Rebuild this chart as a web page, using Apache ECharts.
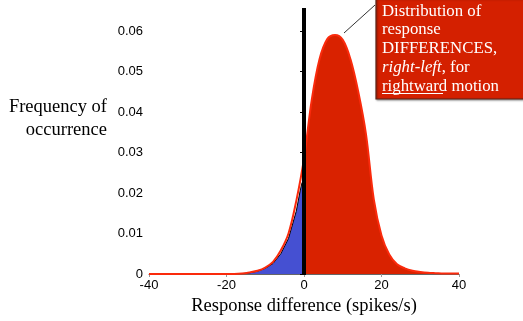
<!DOCTYPE html>
<html>
<head>
<meta charset="utf-8">
<script src="https://cdn.jsdelivr.net/npm/echarts@6/dist/echarts.min.js"></script>
<style>html,body{margin:0;padding:0;background:#fff}#c{width:523px;height:321px}</style>
</head>
<body>
<div id="c"></div>
<script>
// Red distribution (all responses), x in spikes/s
const redX = [-40,-38,-36,-34,-32,-30,-28,-26,-24,-22,-20,-18,-16,-14,-12,-10,-8,-6,-4,-2,0,2,4,6,8,10,12,14,16,18,20,22,24,26,28,30,32,34,36,38,40];
const redY = [0,0,0,0,0,0,0,0,0,0,0,0,0.0001,0.0004,0.0008,0.0016,0.0030,0.0058,0.0100,0.0180,0.0285,0.0430,0.0530,0.0580,0.0590,0.0578,0.0530,0.0450,0.0345,0.0185,0.0095,0.0048,0.0024,0.0014,0.0008,0.0005,0.0003,0.0002,0.0001,0.0001,0.0001];
// Blue portion (negative differences)
const blueX = [-16,-14,-12,-10,-8,-6,-4,-2,-1,-0.5,0];
const blueY = [0.0001,0.0003,0.0007,0.0014,0.0026,0.0050,0.0088,0.0155,0.0205,0.0226,0.0226];
// Criterion line at zero
const critX = [0,0];
const critY = [0,1];
const xTicks = [-40,-20,0,20,40];
const yTicks = [0,0.01,0.02,0.03,0.04,0.05,0.06];

const redLine = redX.map((x,i)=>[x,redY[i]]);
const redArea = redX.map((x,i)=>[x,redY[i]]).filter(p=>p[0]>=0);
const blueArea = blueX.map((x,i)=>[x,blueY[i]]);
const crit = critX.map((x,i)=>[x,critY[i]]);

const chart = echarts.init(document.getElementById('c'), null, {renderer:'canvas'});
const tickFont = {fontFamily:'Liberation Sans', fontSize:13, color:'#000'};
chart.setOption({
  animation:false,
  grid:[
    {left:149, right:64, top:31, bottom:46},
    {left:149, right:64, top:8, bottom:46}
  ],
  xAxis:[
    {gridIndex:0, type:'value', min:-40, max:40, interval:20,
     axisLine:{show:true, onZero:false, lineStyle:{color:'#666', width:1}},
     axisTick:{show:true, inside:false, length:3, lineStyle:{color:'#999'}},
     splitLine:{show:false},
     axisLabel:Object.assign({margin:5, formatter:v=>xTicks.includes(v)?String(v):''}, tickFont),
     name:'Response difference (spikes/s)', nameLocation:'middle', nameGap:23,
     nameTextStyle:{fontFamily:'Liberation Serif', fontSize:18.5, color:'#000'}},
    {gridIndex:1, type:'value', min:-40, max:40, show:false}
  ],
  yAxis:[
    {gridIndex:0, type:'value', min:0, max:0.06, interval:0.01,
     axisLine:{show:true, lineStyle:{color:'#000', width:1}},
     axisTick:{show:true, length:4, lineStyle:{color:'#000'}},
     splitLine:{show:false},
     axisLabel:Object.assign({margin:6, formatter:v=>{const t=yTicks.find(y=>Math.abs(y-v)<1e-9); return t===0?'0':t.toFixed(2);}}, tickFont)},
    {gridIndex:1, type:'value', min:0, max:1, show:false}
  ],
  series:[
    {type:'line', xAxisIndex:0, yAxisIndex:0, data:blueArea, symbol:'none', smooth:false,
     lineStyle:{color:'#000', width:1}, areaStyle:{color:'#4550d2', opacity:1}, z:2},
    {type:'line', xAxisIndex:0, yAxisIndex:0, data:redArea, symbol:'none', smooth:0.35,
     lineStyle:{width:0}, areaStyle:{color:'#d92200', opacity:1}, z:3},
    {type:'line', xAxisIndex:0, yAxisIndex:0, data:redLine, symbol:'none', smooth:0.35,
     lineStyle:{color:'#fa2a0c', width:2}, z:4},
    {type:'line', xAxisIndex:1, yAxisIndex:1, data:crit, symbol:'none',
     lineStyle:{color:'#000', width:4}, z:5}
  ],
  graphic:[
    {type:'text', x:107, y:96, z:10, style:{text:'Frequency of\noccurrence', textAlign:'right', textVerticalAlign:'top',
      fontFamily:'Liberation Serif', fontSize:18.5, lineHeight:23, fill:'#000'}},
    {type:'line', z:10, shape:{x1:344, y1:33, x2:375, y2:5}, style:{stroke:'#333', lineWidth:1}},
    {type:'rect', z:10, shape:{x:376, y:-2, width:150, height:101},
     style:{fill:'#d42000', stroke:'#5a2418', lineWidth:1.2, shadowBlur:2, shadowColor:'rgba(0,0,0,0.4)', shadowOffsetX:1, shadowOffsetY:1}},
    {type:'text', z:11, x:382, y:2, style:{
      text:'{n|Distribution of}\n{n|response}\n{n|DIFFERENCES,}\n{i|right-left}{n|, for}\n{n|rightward motion}',
      fill:'#fff', fontFamily:'Liberation Serif', fontSize:16.8, lineHeight:18.7,
      rich:{
        n:{fontFamily:'Liberation Serif', fontSize:16.8, lineHeight:18.7, fill:'#fff', color:'#fff'},
        i:{fontFamily:'Liberation Serif', fontSize:16.8, lineHeight:18.7, fontStyle:'italic', fill:'#fff', color:'#fff'}
      }}},
    {type:'line', z:11, shape:{x1:382, y1:93.5, x2:443, y2:93.5}, style:{stroke:'#fff', lineWidth:1}}
  ]
});
</script>
</body>
</html>
